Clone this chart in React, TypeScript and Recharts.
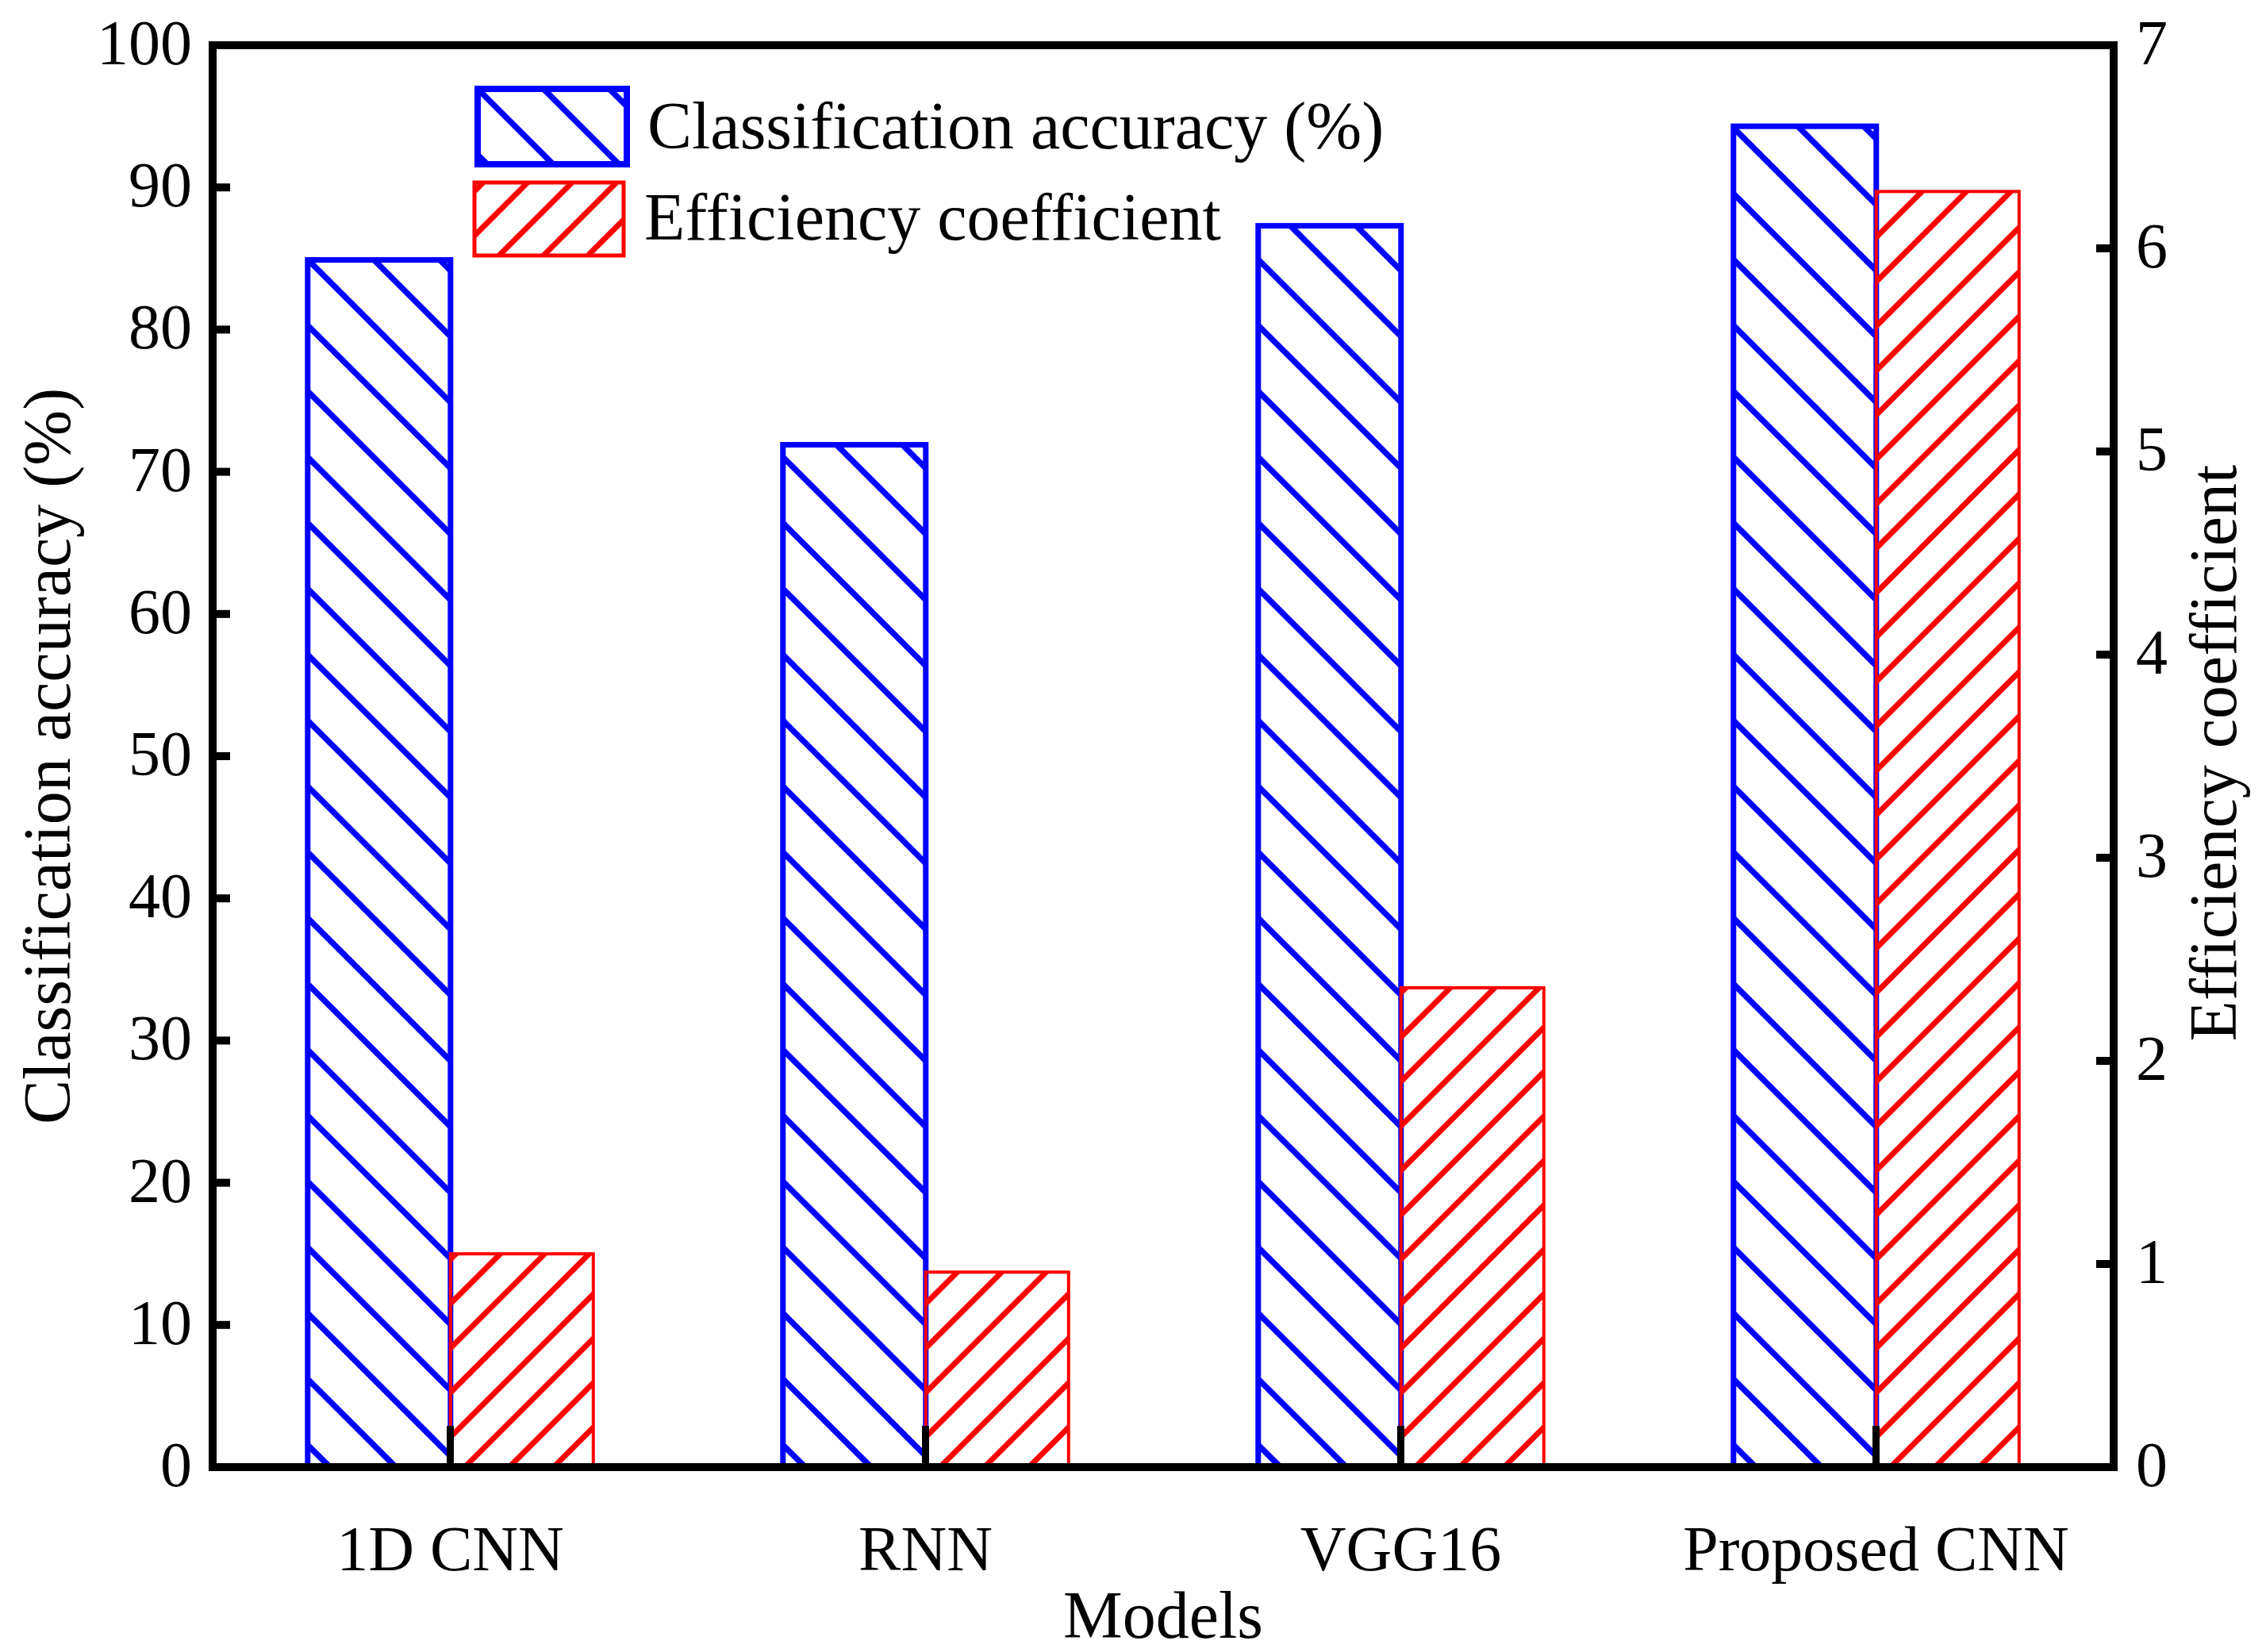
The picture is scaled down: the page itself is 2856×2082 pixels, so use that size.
import React from 'react';
import { BarChart, Bar, XAxis, YAxis, ReferenceLine } from 'recharts';

// values
const models = ['1D CNN', 'RNN', 'VGG16', 'Proposed CNN'];
const accuracy = [84.9, 71.9, 87.3, 94.3];
const efficiency = [1.05, 0.96, 2.36, 6.28];
const accuracyTicks = [0, 10, 20, 30, 40, 50, 60, 70, 80, 90, 100];
const efficiencyTicks = [0, 1, 2, 3, 4, 5, 6, 7];

const data = models.map((model, i) => ({
  model,
  accuracy: accuracy[i],
  efficiency: efficiency[i],
}));

const FONT = '"Liberation Serif", "Times New Roman", serif';
const BLUE = '#0000FF';
const RED = '#FF0000';
const TICK_LEN = 22;

type Hatch = {
  color: string;
  dir: 'back' | 'fwd';
  step: number;
  offset: number;
  lineWidth: number;
  borderWidth: number;
};

const blueHatch: Hatch = { color: BLUE, dir: 'back', step: 83, offset: 28, lineWidth: 7.5, borderWidth: 7 };
const redHatch: Hatch = { color: RED, dir: 'fwd', step: 56, offset: 18, lineWidth: 7, borderWidth: 4 };

function HatchRect({ id, x, y, width, height, hatch }: any) {
  if (!width || !height || height <= 0) return null;
  const bottom = y + height;
  const span = width + height;
  const lines: number[][] = [];
  if (hatch.dir === 'back') {
    // "\" lines, anchored on the bottom edge
    for (let k = -1; hatch.offset + k * hatch.step <= span + hatch.step; k++) {
      const bx = x + hatch.offset + k * hatch.step;
      lines.push([bx, bottom, bx - span, bottom - span]);
    }
  } else {
    // "/" lines
    for (let k = -Math.ceil(height / hatch.step) - 1; hatch.offset + k * hatch.step <= width + hatch.step; k++) {
      const bx = x + hatch.offset + k * hatch.step;
      lines.push([bx, bottom, bx + span, bottom - span]);
    }
  }
  return (
    <g>
      <defs>
        <clipPath id={id}>
          <rect x={x} y={y} width={width} height={height} />
        </clipPath>
      </defs>
      <g clipPath={`url(#${id})`}>
        {lines.map((l, i) => (
          <line key={i} x1={l[0]} y1={l[1]} x2={l[2]} y2={l[3]} stroke={hatch.color} strokeWidth={hatch.lineWidth} />
        ))}
      </g>
      <rect x={x} y={y} width={width} height={height} fill="none" stroke={hatch.color} strokeWidth={hatch.borderWidth} />
    </g>
  );
}

// inward tick stubs drawn at the ends of a reference line
const LeftStub = (p: any) => (
  <rect x={Math.min(p.x1, p.x2)} y={p.y1 - 5} width={TICK_LEN} height={10} fill="#000" />
);
const RightStub = (p: any) => (
  <rect x={Math.max(p.x1, p.x2) - TICK_LEN} y={p.y1 - 5} width={TICK_LEN} height={10} fill="#000" />
);

const LeftTick = ({ x, y, payload }: any) => (
  <text x={x - 26} y={y + 24} textAnchor="end" fontFamily={FONT} fontSize={80} fill="#000">
    {payload.value}
  </text>
);

const RightTick = ({ x, y, payload }: any) => (
  <text x={x + 28} y={y + 24} textAnchor="start" fontFamily={FONT} fontSize={80} fill="#000">
    {payload.value}
  </text>
);

const BottomTick = ({ x, y, payload }: any) => (
  <g>
    <line x1={x} y1={y} x2={x} y2={y - 52} stroke="#000" strokeWidth={9} />
    <text x={x} y={y + 130} textAnchor="middle" fontFamily={FONT} fontSize={80} fill="#000">
      {payload.value}
    </text>
  </g>
);

export default function App() {
  return (
    <div style={{ position: 'absolute', left: 0, top: 0, width: 2856, height: 2082, background: '#fff' }}>
      <BarChart
        width={2856}
        height={2082}
        data={data}
        margin={{ top: 57, right: 0, bottom: 0, left: 0 }}
        barCategoryGap="20%"
        barGap={0}
      >
        <Bar
          dataKey="accuracy"
          yAxisId="left"
          isAnimationActive={false}
          shape={(p: any) => <HatchRect id={`acc-${p.index}`} {...p} hatch={blueHatch} />}
        />
        <Bar
          dataKey="efficiency"
          yAxisId="right"
          isAnimationActive={false}
          shape={(p: any) => <HatchRect id={`eff-${p.index}`} {...p} hatch={redHatch} />}
        />
        <XAxis
          dataKey="model"
          height={233}
          tickSize={0}
          tickMargin={0}
          tickLine={false}
          interval={0}
          tick={<BottomTick />}
          axisLine={{ stroke: '#000', strokeWidth: 10, strokeLinecap: 'square' }}
        />
        <YAxis
          yAxisId="left"
          orientation="left"
          width={268}
          domain={[0, 100]}
          ticks={accuracyTicks}
          interval={0}
          tickSize={0}
          tickMargin={0}
          tickLine={false}
          tick={<LeftTick />}
          axisLine={{ stroke: '#000', strokeWidth: 10, strokeLinecap: 'square' }}
        />
        <YAxis
          yAxisId="right"
          orientation="right"
          width={192}
          domain={[0, 7]}
          ticks={efficiencyTicks}
          interval={0}
          tickSize={0}
          tickMargin={0}
          tickLine={false}
          tick={<RightTick />}
          axisLine={{ stroke: '#000', strokeWidth: 10, strokeLinecap: 'square' }}
        />
        {accuracyTicks.slice(1, -1).map((t) => (
          <ReferenceLine key={`l${t}`} yAxisId="left" y={t} shape={LeftStub} />
        ))}
        {efficiencyTicks.slice(1, -1).map((t) => (
          <ReferenceLine key={`r${t}`} yAxisId="right" y={t} shape={RightStub} />
        ))}
        <ReferenceLine yAxisId="left" y={100} stroke="#000" strokeWidth={10} strokeLinecap="square" />

        {/* axis titles */}
        <text
          x={88}
          y={953}
          transform="rotate(-90, 88, 953)"
          textAnchor="middle"
          fontFamily={FONT}
          fontSize={84}
          fill="#000"
        >
          Classification accuracy (%)
        </text>
        <text
          x={2818}
          y={949}
          transform="rotate(-90, 2818, 949)"
          textAnchor="middle"
          fontFamily={FONT}
          fontSize={84}
          fill="#000"
        >
          Efficiency coefficient
        </text>
        <text x={1466} y={2064} textAnchor="middle" fontFamily={FONT} fontSize={84} fill="#000">
          Models
        </text>

        {/* legend */}
        <g>
          <HatchRect id="leg-acc" x={602} y={112} width={188} height={95} hatch={{ ...blueHatch, offset: 12, borderWidth: 8 }} />
          <text x={816} y={187} fontFamily={FONT} fontSize={84} fill="#000">
            Classification accuracy (%)
          </text>
          <HatchRect id="leg-eff" x={598} y={230} width={188} height={92} hatch={{ ...redHatch, offset: 31, borderWidth: 5 }} />
          <text x={812} y={302} fontFamily={FONT} fontSize={84} fill="#000">
            Efficiency coefficient
          </text>
        </g>
      </BarChart>
    </div>
  );
}
